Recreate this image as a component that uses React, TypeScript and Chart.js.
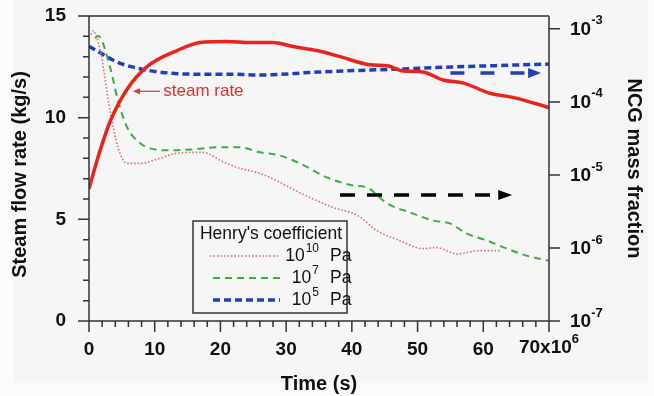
import React, { useEffect, useRef } from 'react';
import { Chart, registerables } from 'chart.js';

Chart.register(...registerables);

const FONT = '"Liberation Sans", Arial, Helvetica, sans-serif';

// ---- data ----
const steamTime = [0, 0.6, 1.7, 3.2, 5.8, 8.8, 13.4, 16.9, 21, 24.5, 28, 31, 34.7, 38.2, 42.8, 45.4, 47.8, 50.8, 53.9, 57, 61, 64.5, 70];
const steamRate = [6.5, 7.2, 8.4, 9.8, 11.4, 12.5, 13.3, 13.7, 13.75, 13.7, 13.7, 13.5, 13.3, 13.0, 12.6, 12.55, 12.3, 12.25, 11.85, 11.7, 11.2, 11.0, 10.5];

const h10Time = [0.3, 0.6, 1.7, 3.2, 4.4, 5.8, 7.8, 10.8, 13.4, 16.9, 18, 20, 22.5, 26, 28.5, 32.1, 37.1, 40.8, 43.8, 47.3, 50.8, 52.9, 56, 59.5, 62.6];
const h10Ncg = [8.3e-4, 9.4e-4, 5.1e-4, 7.7e-5, 2.4e-5, 1.44e-5, 1.44e-5, 1.69e-5, 1.98e-5, 2.04e-5, 1.98e-5, 1.58e-5, 1.27e-5, 1.05e-5, 8.4e-6, 5.7e-6, 3.6e-6, 2.8e-6, 1.73e-6, 1.26e-6, 9.8e-7, 1.01e-6, 8.3e-7, 9.2e-7, 9.2e-7];

const h7Time = [0.9, 1.4, 3.2, 4.4, 5.8, 7.8, 9.3, 12.3, 15.8, 19.5, 23, 26, 29, 32.1, 36.2, 40.2, 42.3, 45.4, 48.9, 52.4, 55, 57.5, 60.6, 63.6, 66.7, 69.9];
const h7Ncg = [7.5e-4, 8.0e-4, 3.0e-4, 1.06e-4, 4.5e-5, 2.71e-5, 2.31e-5, 2.17e-5, 2.24e-5, 2.39e-5, 2.39e-5, 2.04e-5, 1.85e-5, 1.44e-5, 9.25e-6, 7.18e-6, 6.73e-6, 4.06e-6, 3.05e-6, 2.37e-6, 2.15e-6, 1.57e-6, 1.26e-6, 9.8e-7, 7.8e-7, 6.7e-7];

const h5Time = [0, 1.7, 4.3, 7.3, 10.8, 15.8, 21, 26, 34.7, 47.3, 55, 70];
const h5Ncg = [5.8e-4, 4.7e-4, 3.5e-4, 2.9e-4, 2.56e-4, 2.4e-4, 2.4e-4, 2.33e-4, 2.56e-4, 2.82e-4, 3.0e-4, 3.3e-4];

const xTicks = [0, 10, 20, 30, 40, 50, 60, 70];
const yTicks = [0, 5, 10, 15];
const y2Exponents = [-7, -6, -5, -4, -3];

const leftTitle = 'Steam flow rate (kg/s)';
const legendTitle = "Henry's coefficient";
const legendItems = [
  { exp: '10', color: '#e06a6a', dash: [1.5, 2], width: 1.6 },
  { exp: '7', color: '#3fae3f', dash: [7, 5], width: 2 },
  { exp: '5', color: '#1f3fbf', dash: [7, 4], width: 3.5 },
];

// annotation anchors in data coords
const steamLabel = { text: 'steam rate', x: 11.3, y: 11.3, arrowFrom: 10.8, arrowTo: 6.7 };
const blueArrow = { x1: 55, x2: 68.8, y: 12.2 };
const blackArrow = { x1: 38.2, x2: 64.4, y: 6.2 };

function toXY(xs: number[], ys: number[]) {
  return xs.map((x, i) => ({ x, y: ys[i] }));
}

function drawArrow(ctx: CanvasRenderingContext2D, x1: number, y: number, x2: number, color: string, width: number, dash: number[], headLen: number, headHalf: number) {
  ctx.save();
  ctx.strokeStyle = color;
  ctx.fillStyle = color;
  ctx.lineWidth = width;
  ctx.setLineDash(dash);
  ctx.beginPath();
  ctx.moveTo(x1, y);
  ctx.lineTo(x2 - Math.sign(x2 - x1) * headLen, y);
  ctx.stroke();
  ctx.setLineDash([]);
  ctx.beginPath();
  ctx.moveTo(x2, y);
  ctx.lineTo(x2 - Math.sign(x2 - x1) * headLen, y - headHalf);
  ctx.lineTo(x2 - Math.sign(x2 - x1) * headLen, y + headHalf);
  ctx.closePath();
  ctx.fill();
  ctx.restore();
}

const decorPlugin = {
  id: 'decor',
  beforeDraw(chart: any) {
    const ctx = chart.ctx as CanvasRenderingContext2D;
    ctx.save();
    ctx.fillStyle = '#fcfcfc';
    ctx.fillRect(0, 0, chart.width, chart.height);
    ctx.fillStyle = '#f6f6f6';
    ctx.fillRect(13, 0, 635, 383);
    ctx.restore();
  },
  afterDatasetsDraw(chart: any) {
    const ctx = chart.ctx as CanvasRenderingContext2D;
    const xs = chart.scales.x;
    const ys = chart.scales.y;
    const ca = chart.chartArea;

    // arrows
    drawArrow(ctx, xs.getPixelForValue(blueArrow.x1), ys.getPixelForValue(blueArrow.y), xs.getPixelForValue(blueArrow.x2), '#1f3fbf', 3.5, [14, 16], 13, 5);
    drawArrow(ctx, xs.getPixelForValue(blackArrow.x1), ys.getPixelForValue(blackArrow.y), xs.getPixelForValue(blackArrow.x2), '#000000', 3.5, [15, 12], 14, 5);

    // steam rate label
    const ly = ys.getPixelForValue(steamLabel.y);
    drawArrow(ctx, xs.getPixelForValue(steamLabel.arrowFrom), ly, xs.getPixelForValue(steamLabel.arrowTo), '#e03030', 1.2, [], 7, 3);
    ctx.save();
    ctx.font = `17px ${FONT}`;
    ctx.fillStyle = '#e03030';
    ctx.textBaseline = 'middle';
    ctx.textAlign = 'left';
    ctx.fillText(steamLabel.text, xs.getPixelForValue(steamLabel.x), ly);
    ctx.restore();

    // legend
    const bx = ca.left + 104, by = ca.top + 205, bw = 154, bh = 92;
    ctx.save();
    ctx.fillStyle = '#f6f6f6';
    ctx.fillRect(bx, by, bw, bh);
    ctx.strokeStyle = '#333';
    ctx.lineWidth = 1.5;
    ctx.strokeRect(bx, by, bw, bh);
    ctx.fillStyle = '#111';
    ctx.font = `17.5px ${FONT}`;
    ctx.textAlign = 'center';
    ctx.textBaseline = 'middle';
    ctx.fillText(legendTitle, bx + bw / 2 + 1, by + 13);
    legendItems.forEach((it, i) => {
      const ry = by + 35 + i * 22;
      ctx.save();
      ctx.strokeStyle = it.color;
      ctx.lineWidth = it.width;
      ctx.setLineDash(it.dash);
      ctx.beginPath();
      ctx.moveTo(bx + (i === 0 ? 17 : 20), ry);
      ctx.lineTo(bx + 87, ry);
      ctx.stroke();
      ctx.restore();
      ctx.textAlign = 'left';
      ctx.font = `12px ${FONT}`;
      const supW = ctx.measureText(it.exp).width;
      const supEnd = bx + 126;
      ctx.fillText(it.exp, supEnd - supW, ry - 7);
      ctx.font = `17.5px ${FONT}`;
      const baseW = ctx.measureText('10').width;
      ctx.fillText('10', supEnd - supW - baseW - 1, ry);
      ctx.fillText('Pa', bx + 137, ry);
    });
    ctx.restore();
  },
  afterDraw(chart: any) {
    const ctx = chart.ctx as CanvasRenderingContext2D;
    const xs = chart.scales.x;
    const ys = chart.scales.y;
    const y2 = chart.scales.y2;
    const ca = chart.chartArea;
    ctx.save();
    ctx.strokeStyle = '#333';
    ctx.lineWidth = 1.5;
    ctx.beginPath();
    // frame
    ctx.moveTo(ca.left, ca.top); ctx.lineTo(ca.right, ca.top);
    ctx.moveTo(ca.left, ca.top); ctx.lineTo(ca.left, ca.bottom);
    ctx.moveTo(ca.left, ca.bottom); ctx.lineTo(ca.right, ca.bottom);
    ctx.moveTo(ca.right, ca.top); ctx.lineTo(ca.right, ca.bottom);
    // bottom ticks
    for (let v = 0; v <= 70; v += 2) {
      const px = xs.getPixelForValue(v);
      const len = v % 10 === 0 ? 11 : 6;
      ctx.moveTo(px, ca.bottom); ctx.lineTo(px, ca.bottom + len);
    }
    // left ticks
    for (let v = 0; v <= 15; v += 1) {
      const py = ys.getPixelForValue(v);
      const len = v % 5 === 0 ? 11 : 6;
      ctx.moveTo(ca.left, py); ctx.lineTo(ca.left - len, py);
    }
    // right ticks
    y2Exponents.forEach((e) => {
      const py = y2.getPixelForValue(Math.pow(10, e));
      ctx.moveTo(ca.right, py); ctx.lineTo(ca.right + 11, py);
    });
    ctx.stroke();

    // right labels
    ctx.fillStyle = '#111';
    ctx.textAlign = 'left';
    ctx.textBaseline = 'middle';
    y2Exponents.forEach((e) => {
      const py = y2.getPixelForValue(Math.pow(10, e));
      ctx.font = `bold 19px ${FONT}`;
      const w = ctx.measureText('10').width;
      ctx.fillText('10', ca.right + 21, py + 1);
      ctx.font = `bold 13px ${FONT}`;
      ctx.fillText(String(e), ca.right + 21 + w, py - 8);
    });

    // last x label with exponent
    const last = xTicks[xTicks.length - 1];
    const lx = xs.getPixelForValue(last);
    ctx.font = `bold 19px ${FONT}`;
    const main = `${last}x10`;
    const w1 = ctx.measureText(main).width;
    ctx.font = `bold 13px ${FONT}`;
    const w2 = ctx.measureText('6').width;
    const start = lx - (w1 + w2) / 2;
    ctx.font = `bold 19px ${FONT}`;
    ctx.fillText(main, start, ca.bottom + 27);
    ctx.font = `bold 13px ${FONT}`;
    ctx.fillText('6', start + w1, ca.bottom + 18);

    // left axis title (slightly below centre as in the reference)
    ctx.save();
    ctx.translate(20, (ca.top + ca.bottom) / 2 + 6);
    ctx.rotate(-Math.PI / 2);
    ctx.font = `bold 20px ${FONT}`;
    ctx.textAlign = 'center';
    ctx.textBaseline = 'middle';
    ctx.fillText(leftTitle, 0, 0);
    ctx.restore();
    ctx.restore();
  },
};

export default function App() {
  const ref = useRef<HTMLCanvasElement>(null);
  useEffect(() => {
    if (!ref.current) return;
    const tickFont = { family: FONT, size: 19, weight: 'bold' as const };
    const titleFont = { family: FONT, size: 20, weight: 'bold' as const };
    const chart = new Chart(ref.current, {
      type: 'line',
      data: {
        datasets: [
          {
            label: 'steam rate',
            data: toXY(steamTime, steamRate),
            yAxisID: 'y',
            borderColor: '#e8241c',
            borderWidth: 3.5,
            pointRadius: 0,
            cubicInterpolationMode: 'monotone',
          },
          {
            label: '10^10 Pa',
            data: toXY(h10Time, h10Ncg),
            yAxisID: 'y2',
            borderColor: legendItems[0].color,
            borderWidth: legendItems[0].width,
            borderDash: legendItems[0].dash,
            pointRadius: 0,
            cubicInterpolationMode: 'monotone',
          },
          {
            label: '10^7 Pa',
            data: toXY(h7Time, h7Ncg),
            yAxisID: 'y2',
            borderColor: legendItems[1].color,
            borderWidth: legendItems[1].width,
            borderDash: legendItems[1].dash,
            pointRadius: 0,
            cubicInterpolationMode: 'monotone',
          },
          {
            label: '10^5 Pa',
            data: toXY(h5Time, h5Ncg),
            yAxisID: 'y2',
            borderColor: legendItems[2].color,
            borderWidth: legendItems[2].width,
            borderDash: legendItems[2].dash,
            pointRadius: 0,
            cubicInterpolationMode: 'monotone',
          },
        ],
      },
      options: {
        animation: false,
        responsive: false,
        devicePixelRatio: 1,
        layout: { padding: { top: 16, left: 0, right: 0, bottom: 0 } },
        plugins: { legend: { display: false }, tooltip: { enabled: false } },
        scales: {
          x: {
            type: 'linear',
            position: 'bottom',
            min: 0,
            max: 70,
            grid: { display: false },
            border: { display: false },
            afterBuildTicks: (s: any) => { s.ticks = xTicks.map((v) => ({ value: v })); },
            ticks: {
              font: tickFont,
              color: '#111',
              padding: 9,
              maxRotation: 0,
              autoSkip: false,
              callback: (v: any) => (v === xTicks[xTicks.length - 1] ? '' : String(v)),
            },
            title: { display: true, text: 'Time (s)', font: titleFont, color: '#111', padding: { top: 2, bottom: 0 } },
            afterFit: (s: any) => { s.height = 75; s.paddingLeft = 0; s.paddingRight = 0; },
          },
          y: {
            type: 'linear',
            position: 'left',
            min: 0,
            max: 15,
            grid: { display: false },
            border: { display: false },
            afterBuildTicks: (s: any) => { s.ticks = yTicks.map((v) => ({ value: v })); },
            ticks: { font: tickFont, color: '#111', padding: 15, callback: (v: any) => String(v) },
            title: { display: false, text: leftTitle },
            afterFit: (s: any) => { s.width = 89; s.paddingTop = 0; s.paddingBottom = 0; },
          },
          y2: {
            type: 'logarithmic',
            position: 'right',
            min: 1e-7,
            max: 1.5e-3,
            grid: { display: false },
            border: { display: false },
            ticks: { display: false },
            title: { display: true, text: 'NCG mass fraction', font: titleFont, color: '#111', padding: { top: 8, bottom: 0 } },
            afterFit: (s: any) => { s.width = 105; s.paddingTop = 0; s.paddingBottom = 0; },
          },
        },
      } as any,
      plugins: [decorPlugin],
    });
    return () => chart.destroy();
  }, []);
  return (
    <div style={{ position: 'fixed', left: 0, top: 0, width: 654, height: 396 }}>
      <canvas ref={ref} width={654} height={396} style={{ display: 'block', width: 654, height: 396 }} />
    </div>
  );
}
